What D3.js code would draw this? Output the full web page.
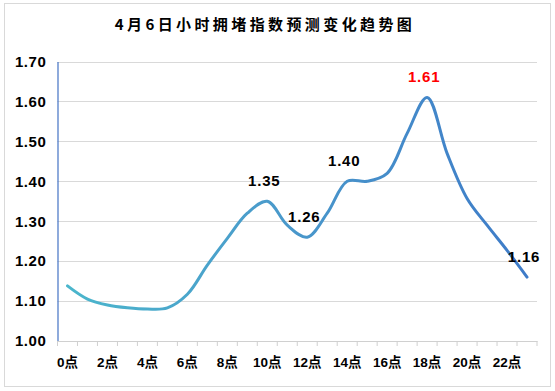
<!DOCTYPE html>
<html><head><meta charset="utf-8">
<script src="https://cdn.jsdelivr.net/npm/d3@7/dist/d3.min.js"></script>
<style>
html,body{margin:0;padding:0;background:#fff;}
svg{display:block;}
</style></head>
<body>
<svg id="chart" width="555" height="391"></svg>
<script>
const title = "4月6日小时拥堵指数预测变化趋势图";
const hours = ["0点","1点","2点","3点","4点","5点","6点","7点","8点","9点","10点","11点","12点","13点","14点","15点","16点","17点","18点","19点","20点","21点","22点","23点"];
const values = [1.138,1.105,1.09,1.083,1.08,1.083,1.117,1.19,1.257,1.32,1.35,1.29,1.26,1.32,1.40,1.40,1.42,1.52,1.61,1.47,1.357,1.29,1.227,1.16];
const yTicks = [1.0,1.1,1.2,1.3,1.4,1.5,1.6,1.7];
const xTickLabels = ["0点","2点","4点","6点","8点","10点","12点","14点","16点","18点","20点","22点"];
const labelIdx = [10,12,14,18,23];
const labelText = ["1.35","1.26","1.40","1.61","1.16"];

const svg = d3.select("#chart");
const pLeft = 57.5, pRight = 537, pTop = 61.5, pBottom = 341;

svg.append("rect").attr("x",4.5).attr("y",3.5).attr("width",546).attr("height",383)
  .attr("fill","#fff").attr("stroke","#d9d9d9").attr("stroke-width",1);

svg.append("text").attr("x",265).attr("y",30).attr("text-anchor","middle")
  .attr("font-family","'Noto Sans CJK SC','Noto Sans',sans-serif").attr("font-weight","bold")
  .attr("font-size",15).attr("letter-spacing","3.4px").attr("fill","#000").text(title);

const x = d3.scaleBand().domain(hours).range([pLeft, pRight]).padding(0);
const y = d3.scaleLinear().domain([1.0, 1.7]).range([pBottom, pTop]);

// gridlines
svg.append("g").selectAll("line").data(yTicks.slice(1)).join("line")
  .attr("x1",pLeft).attr("x2",pRight)
  .attr("y1",d=>Math.round(y(d))+0.5).attr("y2",d=>Math.round(y(d))+0.5)
  .attr("stroke","#d9d9d9").attr("stroke-width",1);

// y axis
const yAxis = d3.axisLeft(y).tickValues(yTicks).tickFormat(d3.format(".2f")).tickSize(0).tickPadding(11);
const gy = svg.append("g").attr("transform",`translate(${pLeft},0)`).call(yAxis);
gy.select(".domain").attr("stroke","#4472c4").attr("stroke-width",1.2);
gy.selectAll("text").attr("font-family","Arial,'Liberation Sans',sans-serif").attr("font-weight","bold")
  .attr("font-size",15).attr("letter-spacing","0.6px").attr("fill","#000");

// x axis
const xAxis = d3.axisBottom(x).tickValues(xTickLabels).tickSize(0).tickPadding(16);
const gx = svg.append("g").attr("transform",`translate(0,${pBottom})`).call(xAxis);
gx.select(".domain").attr("stroke","#d0d0d0").attr("stroke-width",1.2);
gx.selectAll("text").attr("font-family","Arial,'Noto Sans CJK SC',sans-serif").attr("font-weight","bold")
  .attr("font-size",13.5).attr("fill","#000");
// band boundary ticks
const bounds = hours.map(h=>x(h)).concat([x(hours[hours.length-1]) + x.bandwidth()]);
svg.append("g").selectAll("line").data(bounds).join("line")
  .attr("x1",d=>d).attr("x2",d=>d).attr("y1",pBottom).attr("y2",pBottom+5)
  .attr("stroke","#d0d0d0").attr("stroke-width",1);

// gradient
const defs = svg.append("defs");
const grad = defs.append("linearGradient").attr("id","lg").attr("gradientUnits","userSpaceOnUse")
  .attr("x1",x(hours[0])+x.bandwidth()/2).attr("x2",x(hours[23])+x.bandwidth()/2).attr("y1",0).attr("y2",0);
grad.append("stop").attr("offset","0%").attr("stop-color","#4bb6cc");
grad.append("stop").attr("offset","45%").attr("stop-color","#4a9acb");
grad.append("stop").attr("offset","100%").attr("stop-color","#3e7bc8");

const line = d3.line().x((d,i)=>x(hours[i])+x.bandwidth()/2).y(d=>y(d)).curve(d3.curveCatmullRom.alpha(0.5));
svg.append("path").datum(values).attr("d",line).attr("fill","none")
  .attr("stroke","url(#lg)").attr("stroke-width",3).attr("stroke-linecap","round");

// labels
svg.append("g").selectAll("text").data(labelIdx).join("text")
  .attr("x",d=>x(hours[d])+x.bandwidth()/2 - 3)
  .attr("y",d=>y(values[d]) - 15)
  .attr("text-anchor","middle")
  .attr("font-family","Arial,'Liberation Sans',sans-serif").attr("font-weight","bold")
  .attr("font-size",15).attr("letter-spacing","0.8px")
  .attr("fill",d=>values[d]===d3.max(values)?"#ff0000":"#000")
  .text((d,i)=>labelText[i]);
</script>
</body></html>
